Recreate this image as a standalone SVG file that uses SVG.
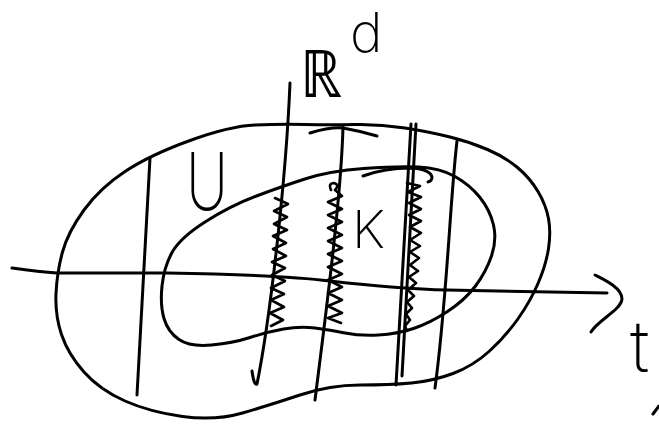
<svg xmlns="http://www.w3.org/2000/svg" width="659" height="425" viewBox="0 0 659 425">
<style>
.s{fill:none;stroke:#000;stroke-width:3;stroke-linecap:round;stroke-linejoin:round}
.z{fill:none;stroke:#000;stroke-width:2.6;stroke-linecap:round;stroke-linejoin:round}
.t{font-family:Inter,Roboto,Lato,"Open Sans","DejaVu Sans",sans-serif;font-weight:200;fill:#000}
</style>
<rect width="659" height="425" fill="#fff"/>
<g id="outer-set-U">
<path class="s" d="M355,124.5 Q380,124 405,128 Q430,132 450,137 Q470,142 487.5,149.5 Q505,157 517.5,167.5 Q530,178 538,191.5 Q546,205 548.5,218.5 Q551,232 548.5,248.5 Q546,265 538,283.5 Q530,302 517.5,319.5 Q505,337 489,351.5 Q473,366 453,373.5 Q433,381 411.5,383 Q390,385 360,385 Q330,385 300,395 Q270,405 242.5,413 Q215,421 182.5,416.5 Q150,412 125,401 Q100,390 84,372 Q68,354 61.5,334.5 Q55,315 56,293.5 Q57,272 62.5,252 Q68,232 84,210 Q100,188 125,171.5 Q150,155 190,140.5 Q230,126 255,125 Q280,124 305,124.5 Q330,125 355,124.5 Z"/>
<text class="t" x="186" y="210" font-size="80" textLength="42" lengthAdjust="spacingAndGlyphs">U</text>
</g>
<g id="inner-set-K">
<path class="s" d="M363.5,168.5 Q397,166 418.5,167 Q440,168 455,176.5 Q470,185 480,197.5 Q490,210 493.5,225 Q497,240 491.5,256 Q486,272 475.5,286 Q465,300 447.5,311.5 Q430,323 413.5,328.5 Q397,334 378.5,335 Q360,336 345,333 Q330,330 315,328 Q300,326 283.5,329 Q267,332 250,337.5 Q233,343 211.5,345 Q190,347 179,339.5 Q168,332 164,318.5 Q160,305 162,286 Q164,267 172,252.5 Q180,238 205,222 Q230,206 256.5,196 Q283,186 306.5,178.5 Q330,171 363.5,168.5 Z"/>
<text class="t" x="352" y="248" font-size="52" textLength="33" lengthAdjust="spacingAndGlyphs">K</text>
</g>
<g id="axis-t">
<path class="s" d="M12,268 Q40,272 57,273 L167,273 Q280,275 330,281 Q400,289 447,290 L607,293"/>
<path class="s" d="M595,275 C605,280 622,288 622,299 C621,310 598,320 591,332"/>
<text class="t" x="630" y="372" font-size="72">t</text>
</g>
<g id="axis-Rd">
<text class="t" x="300" y="97" font-size="66" textLength="42" lengthAdjust="spacingAndGlyphs">ℝ</text>
<text class="t" x="350" y="52" font-size="55">d</text>
</g>
<g id="connectors">
<path class="s" d="M150,158 L137,395"/>
<path class="s" d="M290,83 C286,180 270,320 257,384 Q254,386 252,371"/>
<path class="s" d="M343,127 C341,200 325,320 315,400"/>
<path class="s" d="M411,124 L396,385"/>
<path class="s" d="M416,124 L402,376"/>
<path class="s" d="M457,141 C450,200 447,300 435,388"/>
<path class="s" d="M310,133 Q330,127 343,128 Q360,131 377,136"/>
<path class="s" d="M363,176 Q385,168 410,168 Q430,169 432,177 Q432,181 428,182"/>
<path class="z" d="M275,198 L288,204 L274,211 L287,217 L274,224 L287,230 L273,236 L286,243 L273,249 L286,256 L272,262 L285,268 L272,275 L285,281 L271,288 L284,294 L271,300 L284,307 L270,313 L283,320 L271,326"/>
<path class="z" d="M331,190 Q328,183 334,183 Q340,185 335,190 L342,196 L328,202 L342,209 L328,215 L342,222 L328,228 L342,235 L328,241 L342,248 L328,254 L342,261 L328,267 L342,274 L328,280 L342,287 L328,293 L342,300 L328,306 L342,313 L328,318 L341,323"/>
<path class="z" d="M407,183 L420,186 L408,192 L421,197 L409,203 L421,209 L409,215 L421,221 L410,227 L421,233 L410,240 L420,246 L410,252 L419,258 L410,265 L418,271 L409,277 L416,283 L408,290 L414,296 L407,302 L412,308 L406,314 L410,320 L405,326 L407,331"/>
<path class="s" d="M653,414 L659,406"/>
</g>
</svg>
